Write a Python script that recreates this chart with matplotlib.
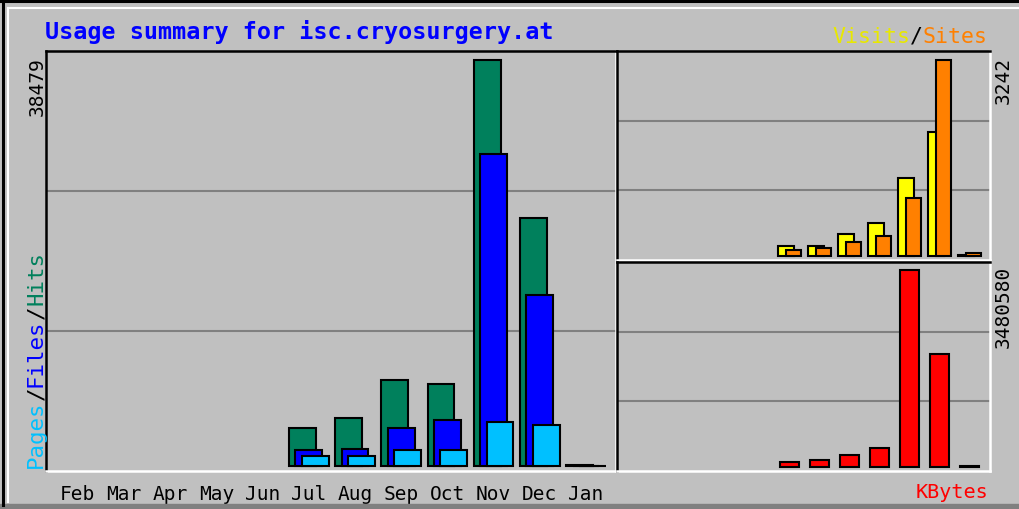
import matplotlib
matplotlib.use('Agg')
import matplotlib.pyplot as plt
from matplotlib.lines import Line2D

# monthly usage, Feb .. Jan
months = ['Feb', 'Mar', 'Apr', 'May', 'Jun', 'Jul', 'Aug', 'Sep', 'Oct', 'Nov', 'Dec', 'Jan']
hits = [0, 0, 0, 0, 0, 3600, 4550, 8150, 7770, 38479, 23500, 60]
files = [0, 0, 0, 0, 0, 1520, 1650, 3600, 4360, 29570, 16200, 40]
pages = [0, 0, 0, 0, 0, 950, 950, 1520, 1520, 4170, 3890, 20]
visits = [0, 0, 0, 0, 0, 160, 160, 365, 540, 1285, 2045, 15]
sites = [0, 0, 0, 0, 0, 100, 130, 237, 325, 960, 3242, 50]
kbytes = [0, 0, 0, 0, 0, 94000, 129000, 217000, 330000, 3480580, 1996000, 12000]

BG = '#C0C0C0'
C_HITS = '#00805C'
C_FILES = '#0000FF'
C_PAGES = '#00C0FF'
C_VISITS = '#FFFF00'
C_SITES = '#FF8000'
C_KB = '#FF0000'

plt.rcParams['font.family'] = ['DejaVu Sans Mono']

fig = plt.figure(figsize=(10.19, 5.10), dpi=100)
fig.patch.set_facecolor(BG)

W, H = 1019.0, 510.0


def px_axes(x0, y0, x1, y1):
    return fig.add_axes([x0 / W, 1 - y1 / H, (x1 - x0) / W, (y1 - y0) / H])


def style_panel(ax):
    ax.set_facecolor(BG)
    ax.set_xticks([])
    ax.set_yticks([])
    for s in ['top', 'left']:
        ax.spines[s].set_color('black')
        ax.spines[s].set_linewidth(1.8)
    for s in ['bottom', 'right']:
        ax.spines[s].set_color('white')
        ax.spines[s].set_linewidth(1.8)
    for f in (1 / 3, 2 / 3):
        ax.plot([0, 1], [f, f], transform=ax.transAxes, color='#808080', lw=1.5, zorder=1)


def bars(ax, vals, offset, width, color):
    xs = [i + offset for i, v in enumerate(vals) if v > 0]
    hs = [v for v in vals if v > 0]
    ax.bar(xs, hs, width=width, color=color, edgecolor='black', linewidth=1.5, zorder=3)


# main panel: hits / files / pages
ax1 = px_axes(46, 52, 616, 472)
style_panel(ax1)
ax1.set_xlim(-0.69, 11.65)
ax1.set_ylim(-474, 39332)
bars(ax1, hits, -0.14, 0.58, C_HITS)
bars(ax1, files, 0.0, 0.58, C_FILES)
bars(ax1, pages, 0.14, 0.58, C_PAGES)
ax1.set_xticks(range(12))
ax1.set_xticklabels(months, fontsize=14)
ax1.tick_params(axis='x', length=0, pad=9)

# visits / sites
ax2 = px_axes(617, 52, 990, 261)
style_panel(ax2)
ax2.set_xlim(-0.75, 11.68)
ax2.set_ylim(-66, 3391)
bars(ax2, visits, -0.12, 0.53, C_VISITS)
bars(ax2, sites, 0.13, 0.5, C_SITES)

# kbytes
ax3 = px_axes(617, 263, 990, 472)
style_panel(ax3)
ax3.set_xlim(-0.75, 11.68)
ax3.set_ylim(-70672, 3621924)
bars(ax3, kbytes, 0.0, 0.63, C_KB)

# title
fig.text(45 / W, 1 - 32 / H, 'Usage summary for isc.cryosurgery.at', color='#0000FF',
         fontsize=16.8, fontweight='bold', ha='left', va='center')

# Visits / Sites legend (right aligned)
fs = 15.5
cw = 0.602 * fs * 100 / 72  # char width in px
xr = 988
y_leg = 1 - 37 / H
fig.text(xr / W, y_leg, 'Sites', color=C_SITES, fontsize=fs, ha='right', va='center')
fig.text((xr - 5 * cw) / W, y_leg, '/', color='black', fontsize=fs, ha='right', va='center')
fig.text((xr - 6 * cw) / W, y_leg, 'Visits', color='#E8E800', fontsize=fs, ha='right', va='center')

# Pages / Files / Hits vertical legend
fv = 16.2
cv = 0.602 * fv * 100 / 72
x_v = 36 / W
yb = 468
fig.text(x_v, 1 - yb / H, 'Pages', color=C_PAGES, fontsize=fv, rotation=90, ha='center', va='bottom')
fig.text(x_v, 1 - (yb - 5 * cv) / H, '/', color='black', fontsize=fv, rotation=90, ha='center', va='bottom')
fig.text(x_v, 1 - (yb - 6 * cv) / H, 'Files', color=C_FILES, fontsize=fv, rotation=90, ha='center', va='bottom')
fig.text(x_v, 1 - (yb - 11 * cv) / H, '/', color='black', fontsize=fv, rotation=90, ha='center', va='bottom')
fig.text(x_v, 1 - (yb - 12 * cv) / H, 'Hits', color=C_HITS, fontsize=fv, rotation=90, ha='center', va='bottom')

# axis max labels
fig.text(37 / W, 1 - 57 / H, str(max(hits)), fontsize=14, rotation=90, ha='center', va='top')
fig.text(1003 / W, 1 - 57 / H, str(max(sites)), fontsize=14, rotation=90, ha='center', va='top')
fig.text(1003 / W, 1 - 266 / H, str(max(kbytes)), fontsize=14, rotation=90, ha='center', va='top')

fig.text(988 / W, 1 - 493 / H, 'KBytes', color=C_KB, fontsize=14.5, ha='right', va='center')


# outer 3D frame
def fline(x0, y0, x1, y1, color, lw):
    fig.add_artist(Line2D([x0 / W, x1 / W], [1 - y0 / H, 1 - y1 / H], color=color, lw=lw,
                          transform=fig.transFigure))


fline(0, 2, W, 2, 'black', 2.2)
fline(3, 0, 3, 506, 'black', 2.2)
fline(8, 9, W, 9, 'white', 1.5)
fline(8, 9, 8, 503, 'white', 1.5)
fig.add_artist(plt.Rectangle((0, 0), 1, 5 / H, transform=fig.transFigure, color='#808080'))

fig.savefig('out.png', dpi=100, facecolor=BG)
